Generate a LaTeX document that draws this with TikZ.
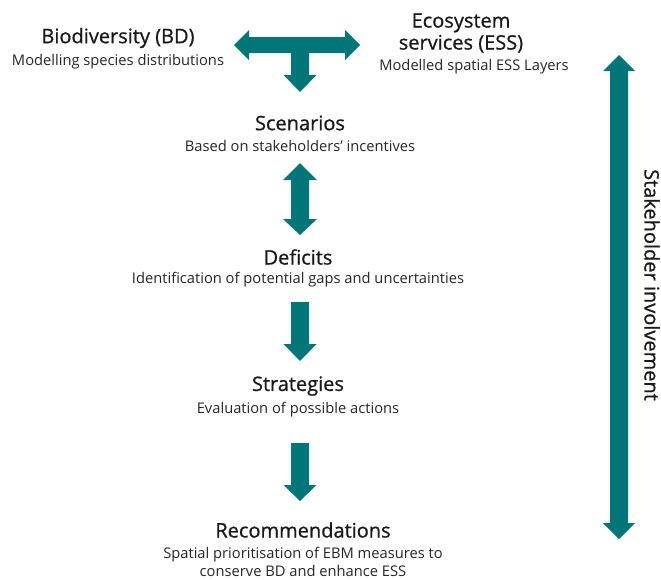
\documentclass[tikz,border=0pt]{standalone}
\usepackage{fontspec}
\setmainfont{Open Sans}
\newfontfamily\headfont{Open Sans}[FakeBold=0.8]
\begin{document}
\begin{tikzpicture}[x=1pt,y=-1pt,
  blockarrow/.style={fill=arrowteal, draw=none},
  heading/.style={font=\headfont\fontsize{20}{22}\selectfont, text=black!90, inner sep=0pt, align=center},
  sub/.style={font=\fontsize{14.7}{18}\selectfont, text=black!85, inner sep=0pt, align=center}]
\definecolor{arrowteal}{RGB}{0,118,120}
\useasboundingbox (0,0) rectangle (661,579);

% Text blocks
\node[heading] (bd) at (118,38) {Biodiversity (BD)};
\node[sub] (bdsub) at (118,62) {Modelling species distributions};
\node[heading] (ess) at (461,33) {Ecosystem\\services (ESS)};
\node[sub] (esssub) at (474,67) {Modelled spatial ESS Layers};
\node[heading] (sc) at (300,123) {Scenarios};
\node[sub] (scsub) at (300,146) {Based on stakeholders' incentives};
\node[heading] (de) at (298,257) {Deficits};
\node[sub] (desub) at (298,280) {Identification of potential gaps and uncertainties};
\node[heading] (st) at (298,386) {Strategies};
\node[sub] (stsub) at (298,410) {Evaluation of possible actions};
\node[heading] (re) at (303,530) {Recommendations};
\node[sub] (resub) at (303,562) {Spatial prioritisation of EBM measures to\\conserve BD and enhance ESS};
\node[heading, rotate=-90] (sh) at (652,285) {Stakeholder involvement};

% T-shaped arrow between BD and ESS, pointing down to Scenarios
\fill[blockarrow] (234,45) -- (249,30) -- (249,37) -- (345,37) -- (345,30) -- (360,45)
  -- (345,60) -- (345,53) -- (309,53) -- (309,75) -- (316.5,75) -- (300,92)
  -- (283.5,75) -- (291,75) -- (291,53) -- (249,53) -- (249,60) -- cycle;

% Scenarios <-> Deficits
\fill[blockarrow] (300,163) -- (317,180) -- (309,180) -- (309,219) -- (317,219) -- (300,235)
  -- (283,219) -- (291,219) -- (291,180) -- (283,180) -- cycle;

% Deficits -> Strategies
\fill[blockarrow] (291,302) -- (309,302) -- (309,344) -- (316.5,344) -- (300,361)
  -- (283.5,344) -- (291,344) -- cycle;

% Strategies -> Recommendations
\fill[blockarrow] (291,443) -- (309,443) -- (309,485) -- (316.5,485) -- (300,501)
  -- (283.5,485) -- (291,485) -- cycle;

% Stakeholder involvement span
\fill[blockarrow] (619,55) -- (635,71) -- (628,71) -- (628,523) -- (635,523) -- (619,539)
  -- (603,523) -- (610,523) -- (610,71) -- (603,71) -- cycle;
\end{tikzpicture}
\end{document}
